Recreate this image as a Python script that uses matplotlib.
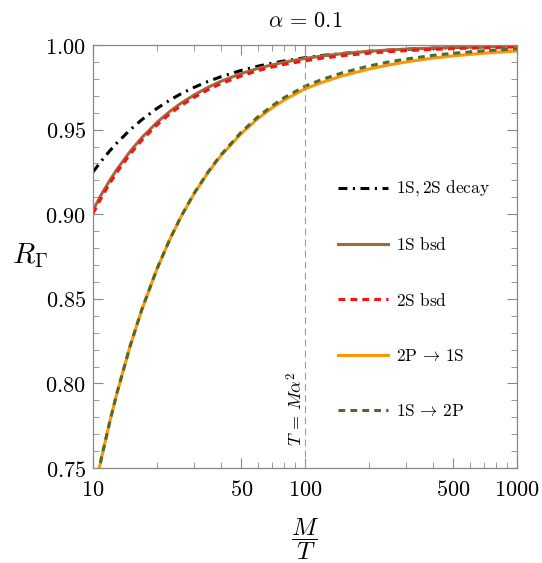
import matplotlib
matplotlib.use("Agg")
from matplotlib import pyplot as plt
from matplotlib.ticker import FixedLocator, FixedFormatter, NullFormatter

plt.rcParams['mathtext.fontset'] = 'cm'
plt.rcParams['font.family'] = 'serif'
plt.rcParams['font.serif'] = ['DejaVu Serif']

# M/T values
x = [10, 11, 12, 13, 15, 17, 20, 23, 26, 30, 35, 40, 50, 60, 70, 80,
     100, 120, 150, 200, 250, 300, 400, 500, 700, 1000]

# 1S, 2S decay
decay = [0.925, 0.9318, 0.9375, 0.9423, 0.950, 0.9559, 0.9625, 0.9674, 0.9712, 0.975,
         0.9786, 0.9812, 0.985, 0.9875, 0.9893, 0.9906, 0.9925, 0.9938, 0.995, 0.9963,
         0.997, 0.9975, 0.9981, 0.9985, 0.9989, 0.9993]
# 1S bsd
bsd_1s = [0.9024, 0.9121, 0.920, 0.9267, 0.9373, 0.9453, 0.9542, 0.9607, 0.9656, 0.9705,
          0.9751, 0.9785, 0.9831, 0.9862, 0.9883, 0.9899, 0.9921, 0.9935, 0.9949, 0.9963,
          0.9971, 0.9976, 0.9982, 0.9986, 0.9990, 0.9994]
# 2S bsd
bsd_2s = [0.9005, 0.9103, 0.9183, 0.9251, 0.9357, 0.9438, 0.9527, 0.9593, 0.9642, 0.9691,
          0.9737, 0.9771, 0.9817, 0.9849, 0.9870, 0.9886, 0.9907, 0.9922, 0.9937, 0.9952,
          0.9961, 0.9967, 0.9974, 0.9979, 0.9984, 0.9989]
# 2P -> 1S
p2_1s = [0.7323, 0.7569, 0.7774, 0.7948, 0.8225, 0.8437, 0.8675, 0.8850, 0.8985, 0.9122,
         0.9249, 0.9344, 0.9477, 0.9566, 0.9629, 0.9676, 0.9741, 0.9779, 0.9818, 0.9858,
         0.9883, 0.9900, 0.9923, 0.9936, 0.9952, 0.9965]
# 1S -> 2P
s1_2p = [0.7323, 0.7569, 0.7774, 0.7948, 0.8225, 0.8437, 0.8675, 0.8850, 0.8986, 0.9124,
         0.9252, 0.9349, 0.9485, 0.9576, 0.9641, 0.9690, 0.9757, 0.9796, 0.9836, 0.9876,
         0.9901, 0.9917, 0.9939, 0.9951, 0.9966, 0.9978]

xticks = [10, 50, 100, 500, 1000]
xminor = [20, 30, 40, 60, 70, 80, 90, 200, 300, 400, 600, 700, 800, 900]
yticks = [0.75, 0.80, 0.85, 0.90, 0.95, 1.00]

fig = plt.figure(figsize=(5.42, 5.63), dpi=100)
ax = fig.add_axes([0.1716, 0.1687, 0.7823, 0.7513])

ax.plot(x, decay, color='black', lw=2.2, dashes=(2.9, 1.8, 0.7, 1.8),
        label=r'$\mathrm{1S}, \mathrm{2S}\ \mathrm{decay}$')
ax.plot(x, bsd_1s, color='#a06a3c', lw=2.2, label=r'$\mathrm{1S\ bsd}$')
ax.plot(x, bsd_2s, color='#ff1010', lw=2.2, dashes=(2.2, 1.7), label=r'$\mathrm{2S\ bsd}$')
ax.plot(x, p2_1s, color='#ff9500', lw=2.2, label=r'$\mathrm{2P}\, \rightarrow\, \mathrm{1S}$')
ax.plot(x, s1_2p, color='#4f6a2c', lw=2.2, dashes=(2.2, 1.7), label=r'$\mathrm{1S}\, \rightarrow\, \mathrm{2P}$')

ax.axvline(100, color='#999999', lw=0.8, dashes=(6, 4))
ax.text(91, 0.785, r'$T\, =\, M\alpha^2$', rotation=90, ha='center', va='center', fontsize=13)

ax.set_xscale('log')
ax.set_xlim(10, 1000)
ax.set_ylim(0.75, 1.00)
ax.xaxis.set_major_locator(FixedLocator(xticks))
ax.xaxis.set_major_formatter(FixedFormatter(['$%d$' % t for t in xticks]))
ax.xaxis.set_minor_locator(FixedLocator(xminor))
ax.xaxis.set_minor_formatter(NullFormatter())
ax.yaxis.set_major_locator(FixedLocator(yticks))
ax.yaxis.set_major_formatter(FixedFormatter(['$%.2f$' % t for t in yticks]))
ax.yaxis.set_minor_locator(FixedLocator([0.75 + 0.01 * i for i in range(26)]))

for s in ax.spines.values():
    s.set_color('#888888')
    s.set_linewidth(0.9)
ax.tick_params(which='both', direction='in', top=True, right=True, color='#888888', labelsize=16)
ax.tick_params(which='major', length=7, width=0.8)
ax.tick_params(which='minor', length=4, width=0.6)
ax.tick_params(axis='x', which='major', pad=8)
ax.tick_params(axis='y', which='major', pad=5)

ax.set_title(r'$\alpha\, =\, 0.1$', fontsize=16, pad=13)
fig.text(0.055, 0.547, r'$R_\Gamma$', fontsize=21, ha='center', va='center')
fig.text(0.563, 0.043, r'$\dfrac{M}{T}$', fontsize=18, ha='center', va='center')

leg = ax.legend(loc='upper left', bbox_to_anchor=(0.54, 0.72), frameon=False, fontsize=12.5,
                labelspacing=2.2, handlelength=2.9, handletextpad=0.45)

fig.savefig('out.png', dpi=100)
